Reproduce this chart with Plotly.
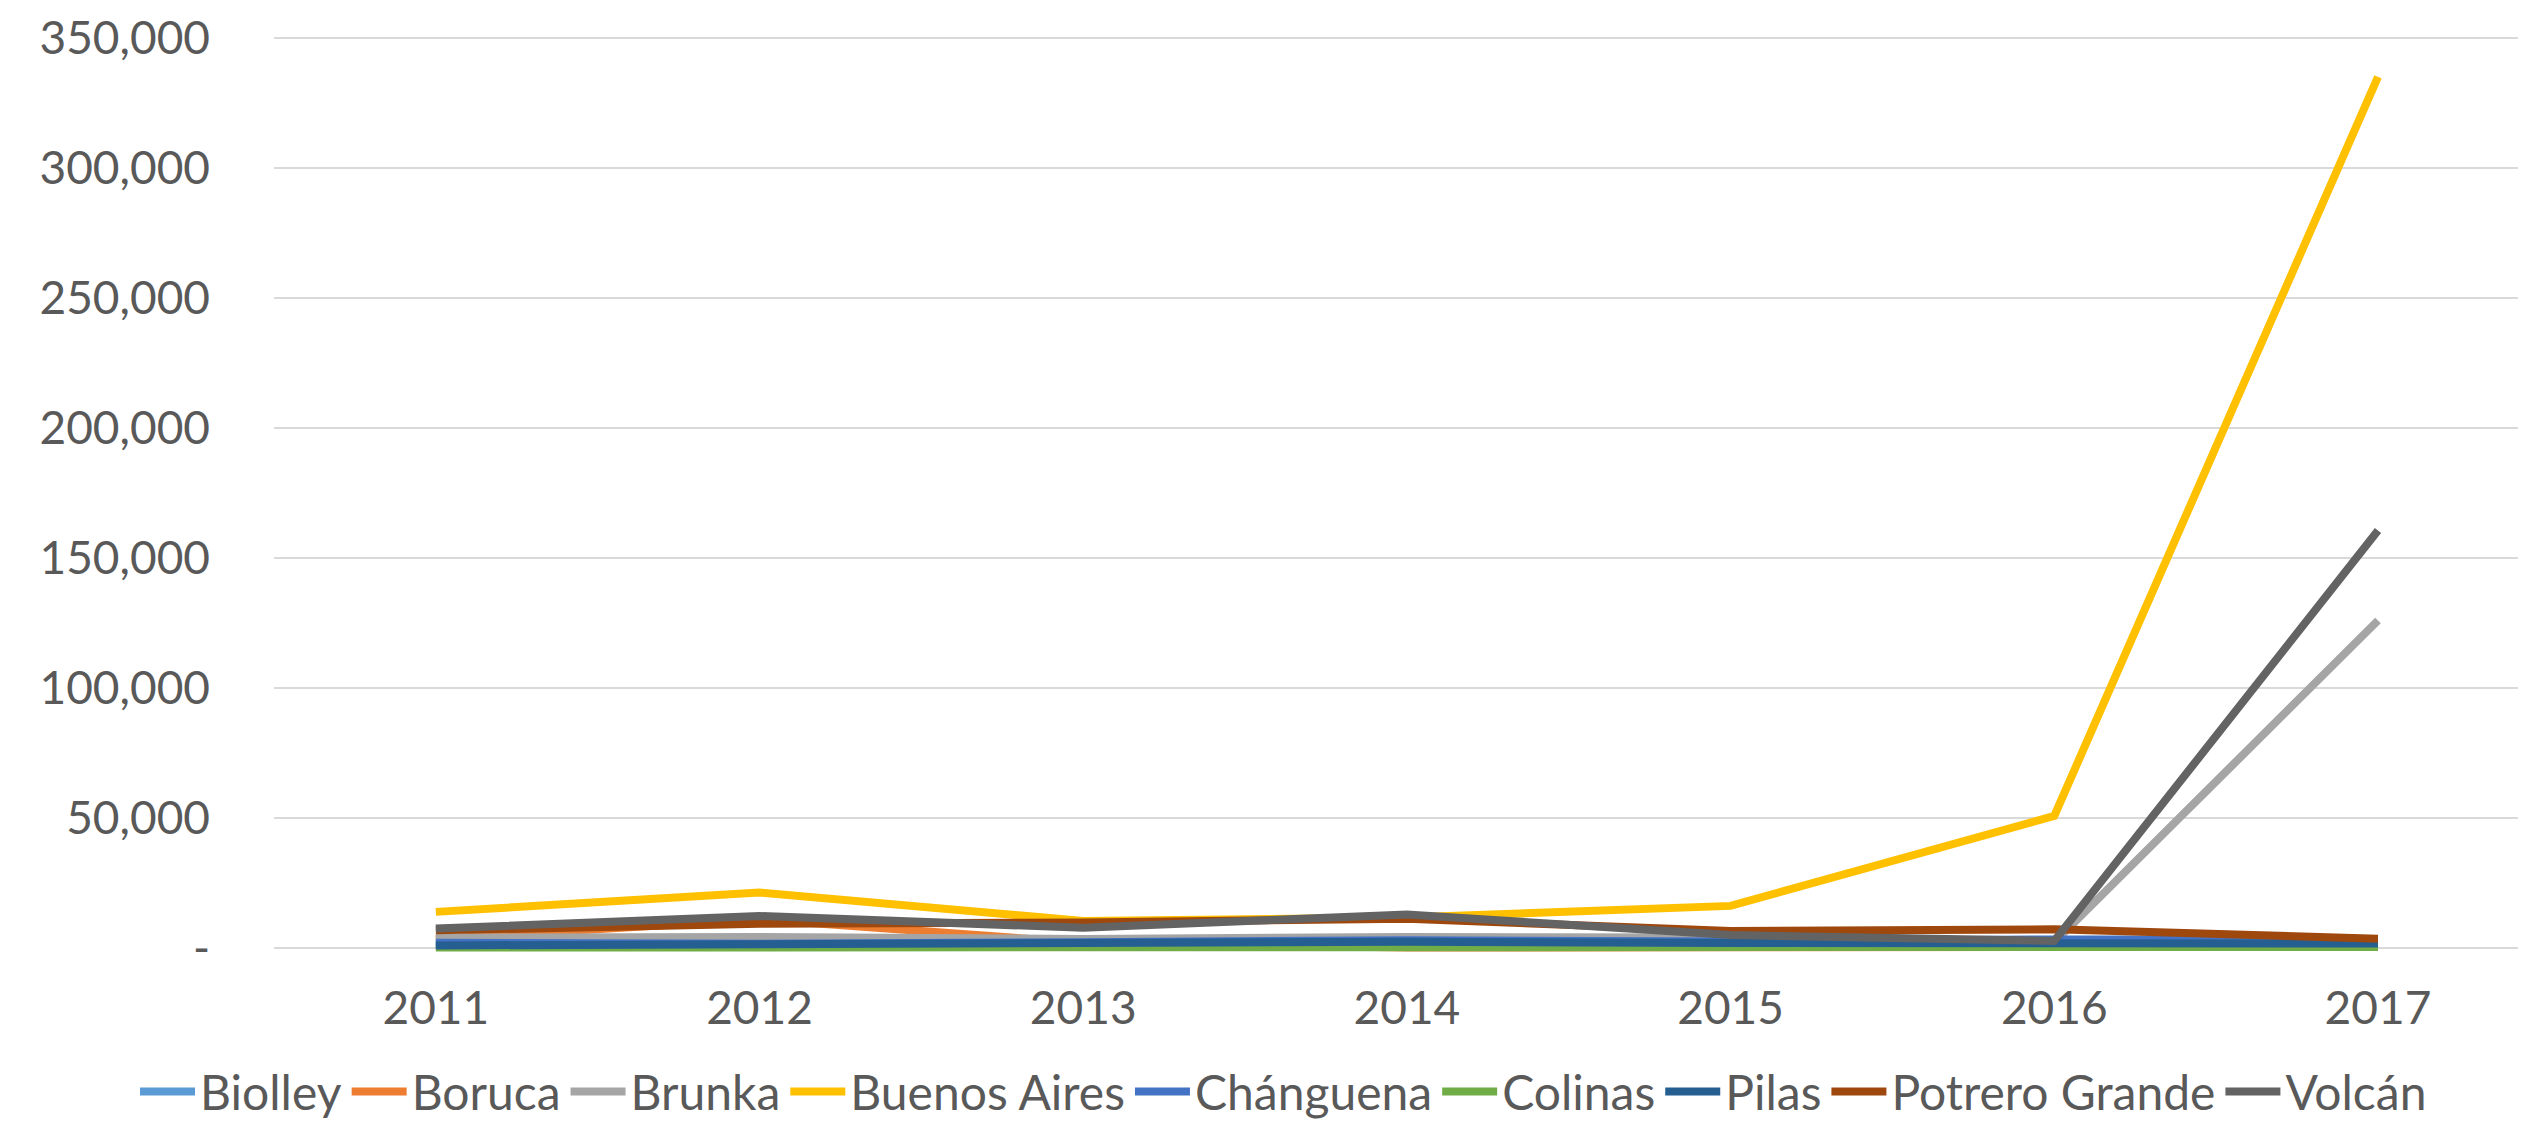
import plotly.graph_objects as go

years = ["2011", "2012", "2013", "2014", "2015", "2016", "2017"]

biolley        = [1500, 1200, 1500, 2000, 1500, 2000, 1500]
boruca         = [3500, 11000, 2000, 200, 300, 300, 400]
brunka         = [4000, 4200, 3500, 4200, 4000, 2200, 126000]
buenos_aires   = [13900, 21300, 10400, 11700, 16200, 50800, 335100]
changuena      = [2000, 1600, 2200, 3000, 2500, 3300, 3300]
colinas        = [200, 300, 300, 800, 500, 400, 400]
pilas          = [1000, 1400, 2000, 2400, 1900, 1700, 1700]
potrero_grande = [6800, 9300, 9800, 11300, 6500, 7200, 3600]
volcan         = [7500, 12300, 7800, 12900, 5000, 2700, 160600]

series = [
    ("Biolley", biolley, "#5B9BD5"),
    ("Boruca", boruca, "#ED7D31"),
    ("Brunka", brunka, "#A5A5A5"),
    ("Buenos Aires", buenos_aires, "#FFC000"),
    ("Chánguena", changuena, "#4472C4"),
    ("Colinas", colinas, "#70AD47"),
    ("Pilas", pilas, "#255E91"),
    ("Potrero Grande", potrero_grande, "#9E480E"),
    ("Volcán", volcan, "#636363"),
]

tick_vals = [0, 50000, 100000, 150000, 200000, 250000, 300000, 350000]
tick_text = ["-", "50,000", "100,000", "150,000", "200,000", "250,000", "300,000", "350,000"]

FONT = "Lato"
TXT = "#595959"

fig = go.Figure()
for name, vals, col in series:
    fig.add_trace(go.Scatter(
        x=years, y=vals, name=name, mode="lines",
        line=dict(color=col, width=8),
    ))

fig.update_layout(
    width=2526, height=1122,
    margin=dict(l=266, r=0, t=25, b=169, autoexpand=False),
    paper_bgcolor="white", plot_bgcolor="white",
    font=dict(family=FONT, size=46, color=TXT),
    showlegend=True,
    legend=dict(
        orientation="h", xref="paper", yref="paper",
        x=-0.0615, xanchor="left", y=-0.141, yanchor="middle",
        font=dict(family=FONT, size=48, color=TXT),
        itemwidth=55, tracegroupgap=0,
    ),
)
fig.update_xaxes(
    type="category", range=[-0.5, 6.482],
    showgrid=False, showline=False, zeroline=False,
    ticks="", tickfont=dict(family=FONT, size=46, color=TXT),
    ticklabelstandoff=16,
)
fig.update_yaxes(
    range=[-5000, 352000],
    tickvals=tick_vals, ticktext=tick_text,
    showgrid=True, gridcolor="#D9D9D9", gridwidth=2,
    zeroline=False, showline=False, ticks="",
    tickfont=dict(family=FONT, size=46, color=TXT),
    ticklabelstandoff=63,
)

fig.write_html("out.html")
